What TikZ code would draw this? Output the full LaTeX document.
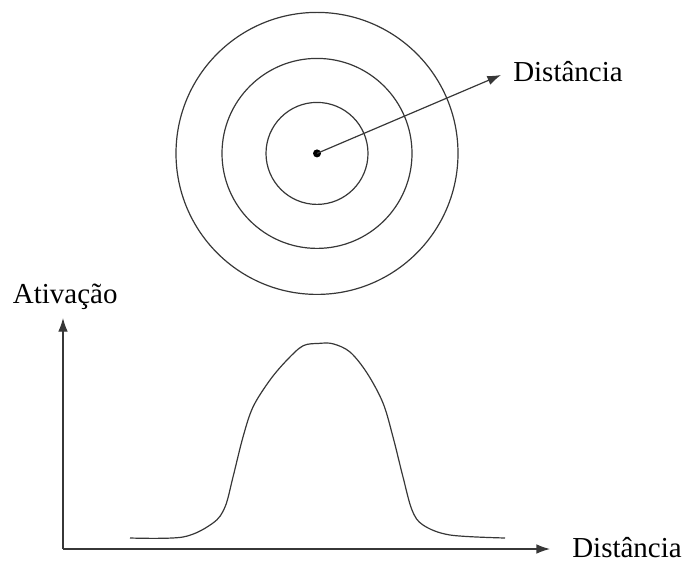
\documentclass[tikz,border=0pt]{standalone}
\usepackage{fontspec}
\setmainfont{Liberation Serif}
\usepackage{tikz}
\usetikzlibrary{arrows.meta, positioning}
\definecolor{myline}{RGB}{55,55,55}
\tikzset{
  ring/.style={draw=myline, line width=0.85pt},
  axis/.style={-{Latex[length=3.4mm, width=2.4mm]}, line width=0.85pt, color=myline},
  lbl/.style={inner sep=0pt, anchor=base west, font=\fontsize{20.6}{24}\selectfont},
  curve/.style={draw=myline, line width=0.85pt}
}
\begin{document}
\begin{tikzpicture}
  \useasboundingbox (-1.575,-0.35) rectangle (15.575,13.725);

  % Concentric rings
  \coordinate (ctr) at (6.35, 9.89);
  \foreach \r in {1.275, 2.375, 3.525}
    \draw[ring] (ctr) circle (\r);
  \fill[black] (ctr) circle (0.1);

  % Distance arrow
  \coordinate (dtip) at (10.95, 11.85);
  \node[lbl] (distTop) at (11.25, 11.675) {Distância};
  \draw[axis] (ctr) -- (dtip);

  % Axes
  \coordinate (orig) at (0, 0);
  \coordinate (ytip) at (0, 5.775);
  \coordinate (xtip) at (12.175, 0);
  \draw[axis] (orig) -- (ytip);
  \draw[axis] (orig) -- (xtip);
  \node[lbl] (act) at (-1.2575, 6.15) {Ativação};
  \node[lbl] (distBot) at (12.725, -0.2) {Distância};

  % Activation profile
  \draw[curve] plot[smooth, tension=0.55] coordinates {
    (1.675,0.275) (3.0,0.3) (3.75,0.65) (4.05,1.05) (4.25,1.8)
    (4.5,2.8) (4.75,3.55) (5.175,4.225) (5.6,4.725) (6.0,5.08)
    (6.4,5.14) (6.75,5.13) (7.175,4.925) (7.6,4.4) (8.0,3.65)
    (8.25,2.8) (8.5,1.8) (8.725,0.975) (9.0,0.6) (9.675,0.35)
    (11.05,0.275)};
\end{tikzpicture}
\end{document}
